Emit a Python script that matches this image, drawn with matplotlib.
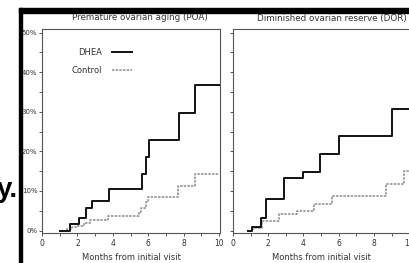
import matplotlib
matplotlib.use("Agg")
import matplotlib.pyplot as plt
from matplotlib.patches import Rectangle
from matplotlib.ticker import MultipleLocator, PercentFormatter

FONT = ["Liberation Sans Narrow", "DejaVu Sans"]
plt.rcParams["font.family"] = FONT

# Premature ovarian aging (POA): months, cumulative pregnancy %
poa_dhea_t = [1.0, 1.58, 2.1, 2.47, 2.8, 3.8, 5.63, 5.9, 6.03, 7.76, 8.64, 10.0]
poa_dhea_v = [0.0, 1.6, 3.2, 5.8, 7.5, 10.5, 14.2, 18.5, 22.9, 29.7, 36.8, 36.8]
poa_ctrl_t = [1.0, 1.4, 1.68, 2.0, 2.37, 2.7, 3.75, 5.5, 5.6, 5.86, 5.97, 7.7, 8.64, 10.0]
poa_ctrl_v = [0.0, 0.3, 0.8, 1.2, 1.8, 2.7, 3.7, 4.8, 5.6, 7.3, 8.4, 11.3, 14.3, 14.3]

# Diminished ovarian reserve (DOR)
dor_dhea_t = [0.85, 1.1, 1.59, 1.88, 2.92, 3.96, 4.94, 6.02, 9.05, 10.0]
dor_dhea_v = [0.0, 0.9, 3.1, 8.0, 13.2, 14.9, 19.3, 23.9, 30.7, 30.7]
dor_ctrl_t = [0.95, 1.12, 1.63, 2.61, 3.62, 4.62, 5.64, 8.7, 9.7, 10.0]
dor_ctrl_v = [0.0, 0.7, 2.3, 4.2, 5.0, 6.6, 8.7, 11.7, 15.0, 15.0]

TITLES = ["Premature ovarian aging (POA)", "Diminished ovarian reserve (DOR)"]
XLABEL = "Months from initial visit"

W, H = 409, 263
fig = plt.figure(figsize=(W / 100, H / 100), dpi=100)
fig.patch.set_facecolor("white")


def px_box(x0, x1, y_top, y_bot):
    return [x0 / W, 1 - y_bot / H, (x1 - x0) / W, (y_bot - y_top) / H]


def style_axes(ax, show_ylabels):
    ax.set_xlim(0, 10.05)
    ax.set_ylim(-0.7, 50.9)
    ax.xaxis.set_major_locator(MultipleLocator(2))
    ax.xaxis.set_minor_locator(MultipleLocator(1))
    ax.yaxis.set_major_locator(MultipleLocator(10))
    ax.yaxis.set_minor_locator(MultipleLocator(5))
    ax.yaxis.set_major_formatter(PercentFormatter(decimals=0))
    for sp in ax.spines.values():
        sp.set_color("#555555")
        sp.set_linewidth(0.8)
    ax.tick_params(which="both", direction="out", length=2.3, width=0.7,
                   color="#555555", labelcolor="#333333")
    ax.tick_params(axis="x", labelsize=5.5, pad=1.5)
    ax.tick_params(axis="y", labelsize=5, pad=1)
    if not show_ylabels:
        ax.tick_params(axis="y", labelleft=False)
    ax.set_xlabel(XLABEL, fontsize=6, color="#333333", labelpad=4)


ax1 = fig.add_axes(px_box(42, 220, 29, 233.3))
ax2 = fig.add_axes(px_box(233, 410, 29, 233.3))

panels = [
    (ax1, poa_dhea_t, poa_dhea_v, poa_ctrl_t, poa_ctrl_v, True),
    (ax2, dor_dhea_t, dor_dhea_v, dor_ctrl_t, dor_ctrl_v, False),
]
for ax, dt, dv, ct, cv, ylab in panels:
    ax.step(ct, cv, where="post", color="#8a8a8a", lw=1.1,
            linestyle=(0, (1.6, 0.8)), label="Control")
    ax.step(dt, dv, where="post", color="#111111", lw=1.4, label="DHEA")
    style_axes(ax, ylab)

h, l = ax1.get_legend_handles_labels()
ax1.legend(h[::-1], l[::-1], loc="upper left", bbox_to_anchor=(0.165, 0.905),
           frameon=False, markerfirst=False, fontsize=6, handlelength=2.4,
           handletextpad=1.2, labelspacing=1.0, borderpad=0, borderaxespad=0,
           labelcolor="#333333")

fig.text(140 / W, 1 - 18 / H, TITLES[0], ha="center", va="center",
         fontsize=6.3, color="#333333")
fig.text(332 / W, 1 - 18 / H, TITLES[1], ha="center", va="center",
         fontsize=6.3, color="#333333")

# black frame of the cropped source figure
fig.patches.append(Rectangle((19 / W, 1 - 12.7 / H), (W - 19) / W, 4.5 / H,
                             transform=fig.transFigure, color="black", zorder=5))
fig.patches.append(Rectangle((19 / W, 0), 3 / W, 1 - 8.2 / H,
                             transform=fig.transFigure, color="black", zorder=5))

# fragment of neighbouring text cut off at the left edge
fig.text(18 / W, 1 - 197 / H, "y.", ha="right", va="baseline", fontsize=20,
         fontweight="bold", family=["Liberation Sans", "DejaVu Sans"], color="black")

fig.savefig("out.png", dpi=100, facecolor="white")
